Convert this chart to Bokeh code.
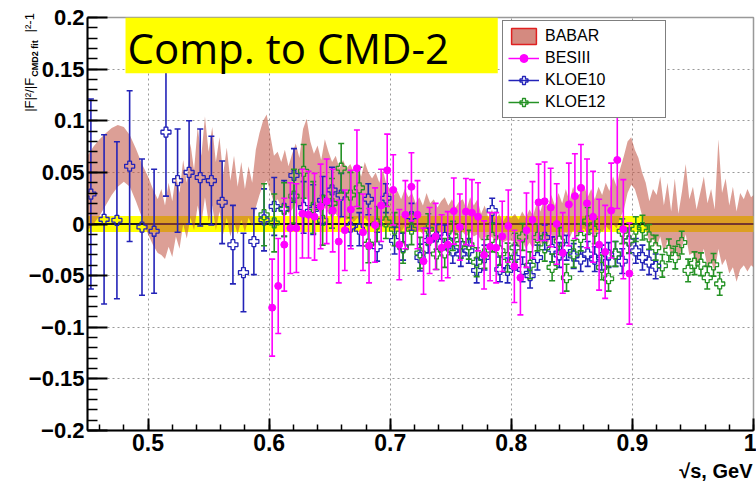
import numpy as np
from bokeh.plotting import figure
from bokeh.models import (Range1d, FixedTicker, BoxAnnotation, Span, Label, Legend,
                          LegendItem, CustomJSTickFormatter)
from bokeh.embed import file_html
from bokeh.resources import INLINE

# ---------------- data ----------------
# BABAR band (relative deviation, lower / upper edge)
band_x = [0.450, 0.455, 0.460, 0.465, 0.470, 0.475, 0.480, 0.485, 0.490, 0.495,
          0.500, 0.504, 0.508, 0.511, 0.514, 0.517, 0.520, 0.523, 0.526, 0.529,
          0.532, 0.535, 0.538, 0.541, 0.544, 0.547, 0.550, 0.553, 0.556, 0.559,
          0.562, 0.565, 0.568, 0.571, 0.574, 0.577, 0.580, 0.583, 0.586, 0.589,
          0.592, 0.595, 0.598, 0.601, 0.604, 0.607, 0.610, 0.613, 0.616, 0.619,
          0.622, 0.625, 0.628, 0.631, 0.634, 0.637, 0.640, 0.643, 0.646, 0.649,
          0.652, 0.655, 0.658, 0.661, 0.664, 0.667, 0.670, 0.673, 0.676, 0.679,
          0.682, 0.685, 0.688, 0.691, 0.694, 0.697, 0.700, 0.703, 0.706, 0.709,
          0.712, 0.715, 0.718, 0.721, 0.724, 0.727, 0.730, 0.733, 0.736, 0.739,
          0.742, 0.745, 0.748, 0.751, 0.754, 0.757, 0.760, 0.763, 0.766, 0.769,
          0.772, 0.775, 0.778, 0.781, 0.784, 0.787, 0.790, 0.793, 0.796, 0.800,
          0.803, 0.806, 0.809, 0.812, 0.815, 0.818, 0.821, 0.824, 0.827, 0.830,
          0.833, 0.836, 0.839, 0.842, 0.845, 0.848, 0.851, 0.854, 0.857, 0.860,
          0.863, 0.866, 0.869, 0.872, 0.875, 0.878, 0.881, 0.884, 0.887, 0.890,
          0.893, 0.896, 0.899, 0.902, 0.905, 0.908, 0.911, 0.914, 0.917, 0.920,
          0.923, 0.926, 0.929, 0.932, 0.935, 0.938, 0.941, 0.944, 0.947, 0.950,
          0.953, 0.956, 0.959, 0.962, 0.965, 0.968, 0.971, 0.974, 0.977, 0.980,
          0.983, 0.986, 0.989, 0.992, 0.995, 0.998, 1.000]
band_hi = [0.066, 0.075, 0.082, 0.088, 0.093, 0.096, 0.094, 0.086, 0.073, 0.058,
           0.046, 0.034, 0.024, 0.034, 0.018, 0.040, 0.022, 0.048, 0.030, 0.062,
           0.040, 0.078, 0.052, 0.094, 0.066, 0.104, 0.070, 0.094, 0.060, 0.084,
           0.048, 0.074, 0.042, 0.066, 0.036, 0.060, 0.034, 0.056, 0.040, 0.072,
           0.088, 0.100, 0.106, 0.086, 0.066, 0.070, 0.060, 0.072, 0.056, 0.068,
           0.078, 0.064, 0.092, 0.102, 0.080, 0.068, 0.076, 0.062, 0.082, 0.070,
           0.060, 0.066, 0.054, 0.062, 0.054, 0.058, 0.050, 0.055, 0.046, 0.060,
           0.050, 0.044, 0.050, 0.040, 0.052, 0.038, 0.034, 0.028, 0.032, 0.024,
           0.034, 0.026, 0.030, 0.020, 0.026, 0.018, 0.030, 0.020, 0.024, 0.016,
           0.022, 0.026, 0.018, 0.024, 0.016, 0.022, 0.024, 0.014, 0.026, 0.018,
           0.024, 0.010, 0.018, 0.006, 0.014, 0.004, 0.010, 0.002, 0.008, 0.006,
           0.010, 0.004, 0.012, 0.006, 0.014, 0.008, 0.020, 0.012, 0.024, 0.016,
           0.028, 0.018, 0.030, 0.020, 0.034, 0.022, 0.036, 0.026, 0.030, 0.038,
           0.026, 0.034, 0.024, 0.036, 0.028, 0.040, 0.032, 0.046, 0.036, 0.054,
           0.066, 0.080, 0.084, 0.072, 0.064, 0.050, 0.040, 0.022, 0.034, 0.028,
           0.046, 0.018, 0.040, 0.012, 0.044, 0.010, 0.032, 0.058, 0.024, 0.036,
           0.014, 0.030, 0.046, 0.020, 0.034, 0.014, 0.082, 0.030, 0.044, 0.018,
           0.036, 0.012, 0.030, 0.024, 0.034, 0.026, 0.028]
band_lo = [-0.006, 0.000, 0.008, 0.018, 0.028, 0.036, 0.041, 0.036, 0.022, 0.006,
           -0.010, -0.020, -0.028, -0.030, -0.034, -0.022, -0.032, -0.012, -0.024, 0.000,
           -0.014, 0.006, -0.006, 0.018, 0.000, 0.026, 0.002, 0.018, -0.006, 0.012,
           -0.010, 0.006, -0.012, 0.002, -0.010, 0.004, -0.008, 0.006, -0.002, 0.016,
           0.028, 0.038, 0.042, 0.032, 0.020, 0.024, 0.016, 0.018, 0.010, 0.014,
           0.020, 0.012, 0.022, 0.026, 0.016, 0.010, 0.014, 0.008, 0.016, 0.010,
           0.006, 0.010, 0.004, 0.008, 0.004, 0.006, 0.002, 0.006, 0.000, 0.006,
           0.002, 0.000, 0.004, -0.002, 0.004, -0.002, -0.004, -0.006, -0.004, -0.008,
           -0.002, -0.006, -0.004, -0.008, -0.006, -0.010, -0.004, -0.008, -0.006, -0.010,
           -0.008, -0.006, -0.010, -0.008, -0.012, -0.008, -0.008, -0.012, -0.008, -0.012,
           -0.010, -0.016, -0.012, -0.016, -0.012, -0.018, -0.014, -0.018, -0.016, -0.016,
           -0.018, -0.022, -0.016, -0.024, -0.018, -0.024, -0.014, -0.022, -0.012, -0.020,
           -0.010, -0.018, -0.010, -0.016, -0.008, -0.014, -0.006, -0.012, -0.008, -0.004,
           -0.010, -0.006, -0.012, -0.004, -0.008, -0.002, -0.006, 0.000, -0.004, 0.006,
           0.014, 0.030, 0.038, 0.034, 0.022, 0.008, -0.004, -0.018, -0.014, -0.022,
           -0.012, -0.028, -0.016, -0.032, -0.020, -0.036, -0.022, -0.010, -0.030, -0.028,
           -0.040, -0.034, -0.024, -0.042, -0.036, -0.046, -0.024, -0.040, -0.034, -0.048,
           -0.042, -0.056, -0.044, -0.040, -0.046, -0.040, -0.042]

# BESIII
bes_x = [0.6025, 0.6075, 0.6125, 0.6175, 0.6225, 0.6275, 0.6325, 0.6375, 0.6425, 0.6475,
         0.6525, 0.6575, 0.6625, 0.6675, 0.6725, 0.6775, 0.6825, 0.6875, 0.6925, 0.6975,
         0.7025, 0.7075, 0.7125, 0.7175, 0.7225, 0.7275, 0.7325, 0.7375, 0.7425, 0.7475,
         0.7525, 0.7575, 0.7625, 0.7675, 0.7725, 0.7775, 0.7825, 0.7875, 0.7925, 0.7975,
         0.8025, 0.8075, 0.8125, 0.8175, 0.8225, 0.8275, 0.8325, 0.8375, 0.8425, 0.8475,
         0.8525, 0.8575, 0.8625, 0.8675, 0.8725, 0.8775, 0.8825, 0.8875, 0.8925, 0.8975]
bes_y = [-0.081, -0.060, -0.020, -0.004, -0.004, 0.010, 0.009, 0.007, 0.017, 0.022,
         0.013, -0.017, -0.006, 0.014, 0.054, -0.008, -0.021, -0.001, 0.018, 0.052,
         0.033, -0.020, 0.009, 0.036, 0.009, -0.036, -0.016, -0.012, -0.023, -0.020,
         0.0125, -0.003, 0.012, 0.011, 0.007, -0.030, -0.022, -0.023, -0.012, -0.002,
         -0.041, -0.052, -0.006, 0.004, 0.021, 0.022, 0.016, 0.000, -0.028, 0.019,
         0.027, 0.035, 0.020, 0.007, -0.020, -0.027, 0.013, 0.062, -0.005, -0.048]
bes_err = [0.047, 0.046, 0.045, 0.044, 0.043, 0.043, 0.042, 0.042, 0.041, 0.041,
           0.040, 0.040, 0.039, 0.038, 0.037, 0.037, 0.036, 0.036, 0.035, 0.035,
           0.034, 0.034, 0.033, 0.033, 0.033, 0.032, 0.032, 0.032, 0.032, 0.032,
           0.032, 0.032, 0.032, 0.032, 0.033, 0.033, 0.033, 0.034, 0.034, 0.035,
           0.035, 0.036, 0.036, 0.037, 0.037, 0.038, 0.038, 0.039, 0.039, 0.040,
           0.041, 0.042, 0.043, 0.044, 0.044, 0.045, 0.046, 0.047, 0.048, 0.049]

# KLOE10
k10_x = [0.4528, 0.4637, 0.4743, 0.4848, 0.4950, 0.5050, 0.5148, 0.5244, 0.5339, 0.5431,
         0.5523, 0.5612, 0.5701, 0.5788, 0.5874, 0.5958,
         0.6042, 0.6124, 0.6205, 0.6285, 0.6364, 0.6442, 0.6519, 0.6595, 0.6671, 0.6745,
         0.6819, 0.6892, 0.6964, 0.7036, 0.7106, 0.7176, 0.7246, 0.7314, 0.7382, 0.7450,
         0.7517, 0.7583, 0.7649, 0.7714, 0.7778, 0.7842, 0.7906, 0.7969, 0.8031, 0.8093,
         0.8155, 0.8216, 0.8276, 0.8337, 0.8396, 0.8456, 0.8515, 0.8573, 0.8631, 0.8689,
         0.8746, 0.8803, 0.8860, 0.8916, 0.8972, 0.9028, 0.9083, 0.9138, 0.9192]
k10_y = [0.029, 0.0045, 0.0036, 0.056, -0.003, -0.007, 0.089, 0.042, 0.050, 0.045,
         0.042, 0.021, -0.020, -0.047, -0.017, 0.004,
         0.017, 0.015, 0.047, 0.016, 0.014, 0.023, 0.033, 0.028, -0.003, -0.005,
         0.024, -0.022, 0.025, -0.016, -0.022, 0.007, -0.0325, -0.016, -0.0125, -0.013,
         -0.026, -0.029, -0.026, -0.045, -0.0325, 0.013, -0.044, -0.045, -0.0325, -0.044,
         -0.050, -0.0325, -0.013, -0.0245, -0.030, -0.023, -0.031, -0.034, -0.029, -0.034,
         -0.0325, -0.030, -0.029, -0.036, -0.0165, -0.026, -0.0325, -0.037, -0.041]
k10_err = [0.092, 0.082, 0.076, 0.073, 0.066, 0.060, 0.062, 0.050, 0.050, 0.047,
           0.043, 0.040, 0.038, 0.038, 0.032, 0.030,
           0.028, 0.027, 0.026, 0.025, 0.024, 0.023, 0.022, 0.021, 0.018, 0.016,
           0.015, 0.014, 0.014, 0.013, 0.013, 0.013, 0.013, 0.012, 0.012, 0.012,
           0.012, 0.012, 0.012, 0.012, 0.012, 0.012, 0.012, 0.012, 0.012, 0.012,
           0.012, 0.012, 0.012, 0.012, 0.012, 0.012, 0.012, 0.012, 0.012, 0.012,
           0.012, 0.012, 0.012, 0.012, 0.012, 0.012, 0.012, 0.012, 0.012]

# KLOE12
k12_x = [0.5958, 0.6042, 0.6124, 0.6205, 0.6285, 0.6364, 0.6442, 0.6519, 0.6595, 0.6671,
         0.6745, 0.6819, 0.6892, 0.6964, 0.7036, 0.7106, 0.7176, 0.7246, 0.7314, 0.7382,
         0.7450, 0.7517, 0.7583, 0.7649, 0.7714, 0.7778, 0.7842, 0.7906, 0.7969, 0.8031,
         0.8093, 0.8155, 0.8216, 0.8276, 0.8337, 0.8396, 0.8456, 0.8515, 0.8573, 0.8631,
         0.8689, 0.8746, 0.8803, 0.8860, 0.8916, 0.8972, 0.9028, 0.9083, 0.9138, 0.9192,
         0.9247, 0.9301, 0.9354, 0.9407, 0.9460, 0.9513, 0.9566, 0.9618, 0.9670, 0.9721]
k12_y = [0.009, 0.001, 0.014, 0.027, 0.051, 0.016, 0.0035, 0.020, 0.054, 0.028,
         0.035, -0.0195, 0.000, 0.002, -0.005, -0.023, -0.005, -0.028, -0.005, -0.029,
         -0.028, -0.0115, -0.019, -0.020, -0.037, -0.029, -0.013, -0.026, -0.0325, -0.023,
         -0.0125, -0.040, -0.013, -0.023, -0.042, -0.0165, -0.052, -0.029, -0.013, 0.003,
         -0.007, -0.042, -0.053, -0.029, -0.007, -0.016, -0.005, -0.0035, -0.0125, -0.023,
         -0.0405, -0.0255, -0.0325, -0.018, -0.045, -0.038, -0.039, -0.052, -0.0395, -0.058]
k12_err = [0.030, 0.028, 0.026, 0.026, 0.026, 0.025, 0.024, 0.024, 0.024, 0.022,
           0.020, 0.018, 0.017, 0.016, 0.016, 0.015, 0.015, 0.015, 0.015, 0.015,
           0.014, 0.014, 0.014, 0.014, 0.014, 0.014, 0.014, 0.014, 0.014, 0.014,
           0.013, 0.013, 0.013, 0.013, 0.013, 0.013, 0.013, 0.013, 0.013, 0.013,
           0.012, 0.012, 0.012, 0.012, 0.012, 0.012, 0.012, 0.012, 0.012, 0.012,
           0.011, 0.011, 0.011, 0.011, 0.011, 0.011, 0.011, 0.011, 0.011, 0.011]

y_ticks = [-0.2, -0.15, -0.1, -0.05, 0, 0.05, 0.1, 0.15, 0.2]
x_ticks = [0.5, 0.6, 0.7, 0.8, 0.9, 1.0]

# ---------------- figure ----------------
p = figure(width=756, height=484, x_range=Range1d(0.45, 1.0), y_range=Range1d(-0.2, 0.2),
           output_backend="svg", toolbar_location=None,
           min_border_left=87, min_border_right=3, min_border_top=17, min_border_bottom=54,
           background_fill_color="white", border_fill_color="white")

p.outline_line_color = "#999999"
p.outline_line_width = 1.5

fmt = CustomJSTickFormatter(code="return tick < 0 ? '\u2212' + String(-tick) : String(tick);")

p.yaxis.ticker = FixedTicker(ticks=y_ticks,
                             minor_ticks=list(np.round(np.arange(-0.2, 0.2001, 0.01), 3)))
p.xaxis.ticker = FixedTicker(ticks=x_ticks,
                             minor_ticks=list(np.round(np.arange(0.46, 1.0001, 0.02), 3)))
p.yaxis.formatter = fmt
p.xaxis.formatter = fmt

for ax in (p.xaxis, p.yaxis):
    ax.axis_line_width = 2
    ax.axis_line_color = "black"
    ax.major_tick_line_width = 2
    ax.minor_tick_line_width = 1.5
    ax.major_tick_out = 0
    ax.minor_tick_out = 0
    ax.major_label_text_font = "Liberation Sans"
    ax.major_label_text_font_style = "bold"
    ax.major_label_text_color = "black"

p.yaxis.major_tick_in = 20
p.yaxis.minor_tick_in = 10
p.yaxis.major_label_text_font_size = "22px"
p.yaxis.major_label_standoff = 3
p.xaxis.major_tick_in = 12
p.xaxis.minor_tick_in = 6
p.xaxis.major_label_text_font_size = "23px"
p.xaxis.major_label_standoff = 3

for g in (p.xgrid, p.ygrid):
    g.grid_line_color = "#999999"
    g.grid_line_dash = "2 3"
    g.grid_line_width = 1

# yellow CMD-2 uncertainty band and zero line
p.add_layout(BoxAnnotation(bottom=-0.0077, top=0.0077, fill_color="#ffff00", fill_alpha=1.0,
                           line_alpha=0, level="underlay"))
p.add_layout(Span(location=0, dimension="width", line_color="#1a1a1a", line_width=2,
                  level="underlay"))

# BABAR band
babar = p.varea(x=band_x, y1=band_lo, y2=band_hi, fill_color="#c0503f", fill_alpha=0.55)

gap = 0.0045


def draw_set(x, y, e, color, marker, size, lw, hollow):
    x = np.array(x); y = np.array(y); e = np.array(e)
    top = y + e
    bot = y - e
    g = gap if hollow else 0.0
    p.segment(x0=x, y0=np.minimum(y + g, top), x1=x, y1=top, line_color=color, line_width=lw)
    p.segment(x0=x, y0=np.maximum(y - g, bot), x1=x, y1=bot, line_color=color, line_width=lw)
    p.scatter(x=x, y=top, marker="dash", size=6, line_color=color, line_width=lw)
    p.scatter(x=x, y=bot, marker="dash", size=6, line_color=color, line_width=lw)
    if hollow:
        r = p.scatter(x=x, y=y, marker=marker, size=size, line_color=color, line_width=1.3,
                      fill_alpha=0)
    else:
        r = p.scatter(x=x, y=y, marker=marker, size=size, line_color=color, fill_color=color)
    return r


c10 = "#2323b8"
c12 = "#259225"
cbes = "#ff00ff"

r10 = draw_set(k10_x, k10_y, k10_err, c10, "plus", 10, 1.6, True)
r12 = draw_set(k12_x, k12_y, k12_err, c12, "plus", 10, 1.6, True)
rbes = draw_set(bes_x, bes_y, bes_err, cbes, "circle", 7, 1.6, False)

# legend swatches (placed outside the visible range, only shown in the legend)
off = [-1.0, -0.9]
leg_babar = p.quad(left=[-1.0], right=[-0.9], top=[0.0], bottom=[-0.1], fill_color="#d48a80",
                   line_color="#e02020", line_width=1.5)
leg_bes = p.line(x=off, y=[0, 0], line_color=cbes, line_width=1.5)
leg_10 = p.line(x=off, y=[0, 0], line_color=c10, line_width=1.5)
leg_12 = p.line(x=off, y=[0, 0], line_color=c12, line_width=1.5)

legend = Legend(items=[LegendItem(label="BABAR", renderers=[leg_babar]),
                       LegendItem(label="BESIII", renderers=[leg_bes, rbes]),
                       LegendItem(label="KLOE10", renderers=[leg_10, r10]),
                       LegendItem(label="KLOE12", renderers=[leg_12, r12])],
                location=(415, 312), border_line_color="black", border_line_width=1.5,
                background_fill_color="white", background_fill_alpha=1.0,
                label_text_font="Liberation Sans", label_text_font_size="16px",
                label_text_color="black",
                glyph_width=31, glyph_height=20, label_height=20, spacing=2,
                padding=5, margin=0, label_standoff=6, label_width=115)
p.add_layout(legend)

# title box
p.add_layout(BoxAnnotation(left=0.4814, right=0.7888, bottom=0.1459, top=0.2,
                           fill_color="#ffff00", fill_alpha=1.0, line_alpha=0))
p.add_layout(Label(x=127, y=47, x_units="canvas", y_units="canvas", text="Comp. to CMD-2",
                   text_font="Open Sans", text_font_size="42px", text_color="black",
                   text_baseline="alphabetic", text_align="left"))

# y-axis title (rotated), main part and subscript, both in the left panel (centre-anchored)
ES = "\u2002"
p.add_layout(Label(x=29, y=62, x_units="canvas", y_units="canvas",
                   text="|F|\u00b2/|F" + ES * 7 + "|\u00b2-1",
                   angle=np.pi / 2, text_font="Liberation Sans", text_font_size="13px",
                   text_color="black", text_align="center", text_baseline="middle"), "left")
p.add_layout(Label(x=34, y=58, x_units="canvas", y_units="canvas", text="CMD2 fit",
                   angle=np.pi / 2, text_font="Liberation Sans", text_font_size="9px",
                   text_font_style="bold", text_color="black",
                   text_align="center", text_baseline="middle"), "left")

# x-axis title, in the bottom panel
p.add_layout(Label(x=752, y=470, x_units="canvas", y_units="canvas", text="\u221as, GeV",
                   text_font="Liberation Sans", text_font_size="20px", text_font_style="bold",
                   text_color="black", text_align="right", text_baseline="middle"),
             "below")

open("out.html", "w").write(file_html(p, INLINE))
